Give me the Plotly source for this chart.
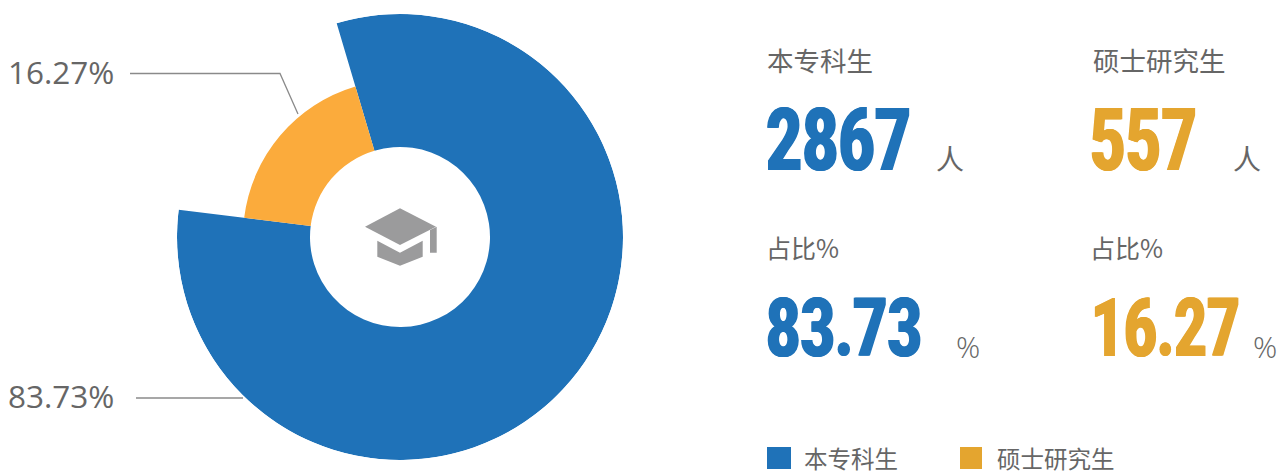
import json
import plotly.graph_objects as go

W, H = 1279, 471

# ---- data ----
categories = ["本专科生", "硕士研究生"]
counts = ["2867", "557"]
shares = ["83.73", "16.27"]
slice_labels = ["83.73%", "16.27%"]
outer_radius = [223, 157]
inner_radius = [90, 90]
sweep_deg = [293.5, 66.5]
start_deg = [343.5, 277]

BLUE = "#1F72B8"
ORANGE = "#FBAB3C"
ORANGE_TXT = "#E4A52F"
GREY = "#666666"
LINE = "#8A8A8A"
CAP = "#9B9B9C"
CJK = "Noto Sans CJK SC"
NUM = "Roboto"

# rendered widths of the heavy condensed figures
big_widths = {counts[0]: 145, counts[1]: 107, shares[0]: 156, shares[1]: 149}


def px(x):
    return x / W


def py(y):
    return 1 - y / H


fig = go.Figure()
for i, (col) in enumerate([BLUE, ORANGE]):
    fig.add_trace(go.Barpolar(
        r=[outer_radius[i] - inner_radius[i]],
        base=[inner_radius[i]],
        theta=[(start_deg[i] + sweep_deg[i] / 2) % 360],
        width=[sweep_deg[i]],
        name=categories[i],
        marker=dict(color=col, line=dict(width=0)),
        showlegend=False,
        hoverinfo="name",
    ))

annotations = []


def text(x, y, s, size, color=GREY, family=CJK, anchor="left", height=None, width=None, **font):
    a = dict(
        xref="paper", yref="paper", x=px(x), y=py(y), text=s, showarrow=False,
        xanchor=anchor, yanchor="middle", borderpad=0, borderwidth=0,
        font=dict(size=size, color=color, family=family, **font),
    )
    if height:
        a["height"] = height
    if width:
        a["width"] = width
    annotations.append(a)


def big(x, y, s, color, size):
    text(x, y, s, size, color, NUM, anchor="center", width=big_widths[s] + 6, weight=900,
         shadow=f"1px 0 0 {color}, -1px 0 0 {color}")


text(8, 72, slice_labels[1], 31.5, "#666666", "Open Sans")
text(8, 395, slice_labels[0], 31.5, "#666666", "Open Sans")

text(767, 60, categories[0], 26.5)
text(1093, 60, categories[1], 26.5)
big(838.5, 140, counts[0], BLUE, 88)
big(1143.5, 140, counts[1], ORANGE_TXT, 88)
text(936, 158, "人", 28)
text(1233, 158, "人", 28)

text(766, 247, "占比%", 25)
text(1090, 247, "占比%", 25)
big(844, 328, shares[0], BLUE, 82)
big(1165.5, 328, shares[1], ORANGE_TXT, 82)
text(956, 346, "%", 30, GREY, "Open Sans", weight=300)
text(1253, 346, "%", 30, GREY, "Open Sans", weight=300)

text(804, 458, categories[0], 23.5, height=26)
text(997, 458, categories[1], 23.5, height=26)


def poly(points, color):
    d = "M " + " L ".join(f"{px(a):.5f},{py(b):.5f}" for a, b in points) + " Z"
    return dict(type="path", xref="paper", yref="paper", path=d,
                fillcolor=color, line=dict(width=0))


def polyline(points):
    d = "M " + " L ".join(f"{px(a):.5f},{py(b):.5f}" for a, b in points)
    return dict(type="path", xref="paper", yref="paper", path=d,
                line=dict(color=LINE, width=1.3))


shapes = [
    polyline([(130, 73.5), (280, 73.5), (298, 114)]),
    polyline([(136, 398), (243, 398)]),
    poly([(767, 447), (791, 447), (791, 469), (767, 469)], BLUE),
    poly([(960, 447), (982, 447), (982, 469), (960, 469)], ORANGE_TXT),
    poly([(365, 226.7), (400, 208.3), (436, 226.7), (400, 245)], CAP),
    poly([(377.3, 240.7), (400, 252.7), (422.7, 240.7), (422.7, 256.7), (400, 265.7), (377.3, 256.7)], CAP),
    poly([(430, 230), (436.7, 226.7), (436.7, 252.7), (430, 252.7)], CAP),
]

fig.update_layout(
    width=W, height=H,
    margin=dict(l=0, r=0, t=0, b=0),
    paper_bgcolor="white",
    plot_bgcolor="white",
    showlegend=False,
    annotations=annotations,
    shapes=shapes,
    polar=dict(
        domain=dict(x=[px(177), px(623)], y=[py(460), py(14)]),
        bgcolor="rgba(0,0,0,0)",
        radialaxis=dict(visible=False, range=[0, 223]),
        angularaxis=dict(visible=False, direction="clockwise", rotation=90),
        bargap=0,
    ),
)

post = """
document.body.style.margin='0';
var widths = %s;
document.querySelectorAll('.annotation-text').forEach(function (t) {
  var w = widths[t.textContent];
  if (w) { t.setAttribute('textLength', w); t.setAttribute('lengthAdjust', 'spacingAndGlyphs'); }
});
""" % json.dumps(big_widths)

fig.write_html("out.html", post_script=post, config={"displayModeBar": False})
